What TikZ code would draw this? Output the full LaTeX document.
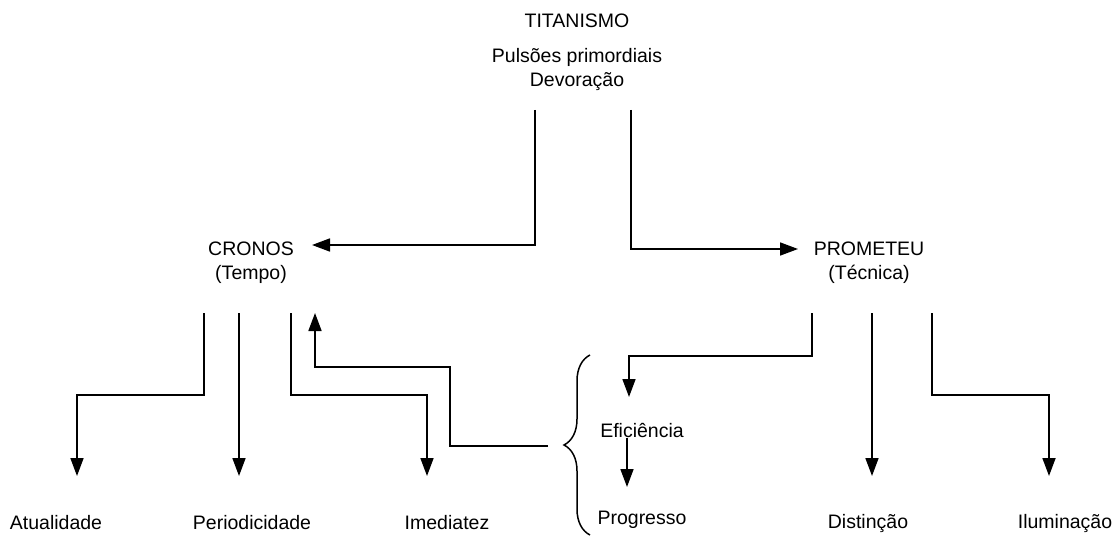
\documentclass[tikz,border=0pt]{standalone}
\usepackage{fontspec}
\setmainfont{Liberation Sans}
\usetikzlibrary{arrows.meta,positioning,decorations.pathreplacing}

\begin{document}
\begin{tikzpicture}[x=1pt,y=-1pt,
    lbl/.style={font=\fontsize{19.5}{24}\selectfont, align=center, inner sep=0pt},
    link/.style={line width=1.7pt, -{Triangle[width=13pt,length=18pt]}}]
        \useasboundingbox (0,0) rectangle (1113,537);

        \node[lbl] (titan) at (577,21) {TITANISMO};
        \node[lbl] (pulsoes) at (577,70) {Pulsões primordiais\\Devoração};
        \node[lbl] (cronos) at (251,263) {CRONOS\\(Tempo)};
        \node[lbl] (prometeu) at (869,263) {PROMETEU\\(Técnica)};

        \node[lbl] (atual) at (56,523) {Atualidade};
        \node[lbl] (period) at (252,523) {Periodicidade};
        \node[lbl] (imed) at (447,523) {Imediatez};
        \node[lbl] (efic) at (642,430) {Eficiência};
        \node[lbl] (progr) at (642,520) {Progresso};
        \node[lbl] (dist) at (868,523) {Distinção};
        \node[lbl] (ilum) at (1065,523) {Iluminação};

        %% line ends
        \coordinate (tl) at (535,110);
        \coordinate (tr) at (631,110);
        \coordinate (cronosin) at (312,245);
        \coordinate (prometin) at (798,249);
        \coordinate (c1) at (204,313);
        \coordinate (c2) at (239,313);
        \coordinate (c3) at (291,313);
        \coordinate (c4) at (315,313);
        \coordinate (p1) at (812,313);
        \coordinate (p2) at (872,313);
        \coordinate (p3) at (932,313);
        \coordinate (bracetip) at (548,446);

        \draw[link] (tl) |- (cronosin);
        \draw[link] (tr) |- (prometin);

        \draw[link] (c1) -- +(0,82) -| (77,476);
        \draw[link] (c2) -- (239,476);
        \draw[link] (c3) -- +(0,82) -| (427,476);
        \draw[link] (bracetip) -- ++(-98,0) |- ++(-135,-79) -- (c4);

        \draw[line width=1.5pt, decorate, decoration={brace, amplitude=26pt}]
            (590,535) -- (590,355);

        \draw[link] (p1) -- +(0,43) -| (629,397);
        \draw[link] (627,438) -- (627,487);
        \draw[link] (p2) -- (872,476);
        \draw[link] (p3) -- +(0,82) -| (1049,476);

      \end{tikzpicture}
\end{document}
